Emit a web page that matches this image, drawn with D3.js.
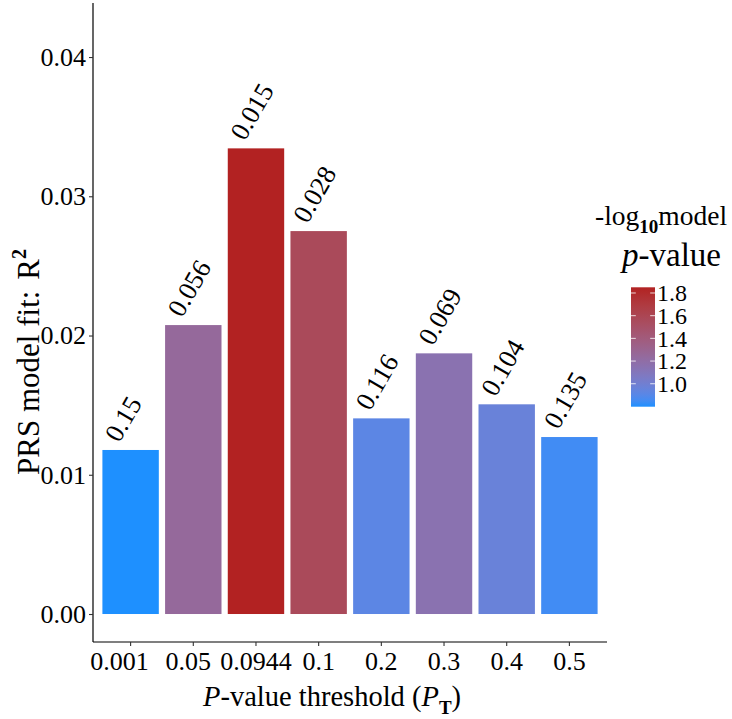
<!DOCTYPE html>
<html>
<head>
<meta charset="utf-8">
<script src="https://cdn.jsdelivr.net/npm/d3@7"></script>
<style>
  html, body { margin: 0; padding: 0; background: #fff; }
  svg { display: block; }
  svg text { font-family: "Liberation Serif", "Times New Roman", Times, serif; fill: #000; }
</style>
</head>
<body>
<svg id="chart" width="732" height="719"></svg>
<script>
// ---- data ----
const thresholds = ["0.001", "0.05", "0.0944", "0.1", "0.2", "0.3", "0.4", "0.5"];
const r2Values   = [0.01178, 0.02075, 0.03344, 0.0275, 0.01405, 0.01872, 0.01506, 0.01271];
const pLabels    = ["0.15", "0.056", "0.015", "0.028", "0.116", "0.069", "0.104", "0.135"];
const yTicks     = [0, 0.01, 0.02, 0.03, 0.04];
const legendTicks = [1.0, 1.2, 1.4, 1.6, 1.8];

const logP = pLabels.map(p => -Math.log10(+p));
const SERIF = '"Liberation Serif", "Times New Roman", Times, serif';

const svg = d3.select("#chart");

// ---- scales ----
const x = d3.scaleBand().domain(thresholds).range([93, 607]).paddingInner(0.1).paddingOuter(0.15);
const y = d3.scaleLinear().domain([-0.00201, 0.04388]).range([642, 3]);
const lpExtent = d3.extent(logP);
const color = d3.scaleLinear().domain(lpExtent).range(["#1E90FF", "#B22222"]).interpolate(d3.interpolateLab);

// ---- bars ----
svg.append("g").selectAll("rect")
  .data(thresholds)
  .join("rect")
  .attr("x", d => x(d))
  .attr("width", x.bandwidth())
  .attr("y", (d, i) => y(r2Values[i]))
  .attr("height", (d, i) => y(0) - y(r2Values[i]))
  .attr("fill", (d, i) => color(logP[i]));

// ---- bar labels ----
svg.append("g").selectAll("text")
  .data(thresholds)
  .join("text")
  .attr("transform", (d, i) => `translate(${x(d) + x.bandwidth() / 2},${y(r2Values[i])}) rotate(-60)`)
  .attr("x", 0)
  .attr("y", -13)
  .style("font-family", SERIF)
  .attr("font-size", 26.5)
  .text((d, i) => pLabels[i]);

// ---- axes ----
const yAxis = d3.axisLeft(y).tickValues(yTicks).tickFormat(d3.format(".2f")).tickSize(4).tickPadding(3);
const gy = svg.append("g").attr("transform", "translate(93,0)").call(yAxis);
gy.select(".domain").attr("d", "M0,3V642").attr("stroke", "#000").attr("stroke-width", 1.2);
gy.selectAll(".tick line").attr("stroke", "#333").attr("stroke-width", 1.1);
gy.selectAll(".tick text").style("font-family", SERIF).attr("font-size", 26).attr("fill", "#000");

// first two x labels sit slightly left of their ticks in the reference
const xLabelShift = { "0.001": -11, "0.05": -5 };
const xAxis = d3.axisBottom(x).tickSize(4).tickPadding(6);
const gx = svg.append("g").attr("transform", "translate(0,642)").call(xAxis);
gx.select(".domain").attr("d", "M93,0H607").attr("stroke", "#000").attr("stroke-width", 1.2);
gx.selectAll(".tick line").attr("stroke", "#333").attr("stroke-width", 1.1);
gx.selectAll(".tick text").style("font-family", SERIF).attr("font-size", 26).attr("fill", "#000")
  .attr("dx", d => xLabelShift[d] || 0);

// ---- axis titles ----
const xt = svg.append("text").attr("x", 203).attr("y", 706).attr("font-size", 28.5).style("font-family", SERIF);
xt.append("tspan").attr("font-style", "italic").text("P");
xt.append("tspan").text("-value threshold (");
xt.append("tspan").attr("font-style", "italic").text("P");
xt.append("tspan").attr("font-weight", "bold").attr("font-size", 19).attr("dy", 8).text("T");
xt.append("tspan").attr("dy", -8).text(")");

const yt = svg.append("text").attr("transform", "translate(39,475) rotate(-90)").attr("font-size", 31).style("font-family", SERIF);
yt.append("tspan").text("PRS model fit:");
yt.append("tspan").attr("dx", 11).text("R");
yt.append("tspan").attr("font-size", 20).attr("font-weight", "bold").attr("dy", -13).text("2");

// ---- legend ----
const lg = svg.append("g");
const t1 = lg.append("text").attr("x", 595).attr("y", 225).attr("font-size", 27.5).style("font-family", SERIF);
t1.append("tspan").text("-log");
t1.append("tspan").attr("font-weight", "bold").attr("font-size", 19).attr("dy", 8).text("10");
t1.append("tspan").attr("dy", -8).text("model");
const t2 = lg.append("text").attr("x", 622).attr("y", 266).attr("font-size", 33).style("font-family", SERIF);
t2.append("tspan").attr("font-style", "italic").text("p");
t2.append("tspan").text("-value");

const barX = 631, barW = 24, barTop = 287.3, barBot = 406.7;
const barH = barBot - barTop;
const ly = d3.scaleLinear().domain(lpExtent).range([barBot - barH / 40, barTop + barH / 40]);

const defs = svg.append("defs");
const grad = defs.append("linearGradient").attr("id", "lgrad")
  .attr("x1", 0).attr("y1", 1).attr("x2", 0).attr("y2", 0);
d3.range(0, 1.0001, 0.05).forEach(t => {
  grad.append("stop").attr("offset", t)
    .attr("stop-color", color(lpExtent[0] + t * (lpExtent[1] - lpExtent[0])));
});
lg.append("rect").attr("x", barX).attr("y", barTop).attr("width", barW).attr("height", barH)
  .attr("fill", "url(#lgrad)");

lg.selectAll("line.l").data(legendTicks).join("line")
  .attr("x1", barX).attr("x2", barX + 4.8)
  .attr("y1", d => ly(d)).attr("y2", d => ly(d))
  .attr("stroke", "#fff").attr("stroke-opacity", 0.8).attr("stroke-width", 1);
lg.selectAll("line.r").data(legendTicks).join("line")
  .attr("x1", barX + barW - 4.8).attr("x2", barX + barW)
  .attr("y1", d => ly(d)).attr("y2", d => ly(d))
  .attr("stroke", "#fff").attr("stroke-opacity", 0.8).attr("stroke-width", 1);
lg.selectAll("text.lab").data(legendTicks).join("text")
  .attr("x", 657).attr("y", d => ly(d)).attr("dy", "0.35em")
  .style("font-family", SERIF)
  .attr("font-size", 24)
  .text(d => d.toFixed(1));
</script>
</body>
</html>
